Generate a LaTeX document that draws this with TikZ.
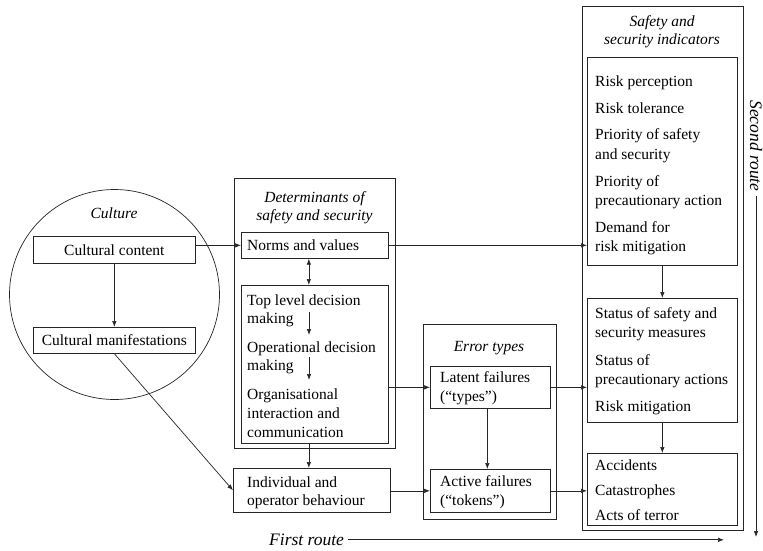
\documentclass[tikz,border=0pt]{standalone}
\usepackage{fontspec}
\setmainfont{Liberation Serif}
\usetikzlibrary{arrows.meta}
\begin{document}
\begin{tikzpicture}[x=1pt,y=-1pt,
  every node/.style={font=\fontsize{15.5}{19}\selectfont},
  bx/.style={draw=black!85, line width=0.7pt, rectangle, anchor=north west, inner sep=0pt},
  tl/.style={anchor=base west, inner sep=0pt},
  ital/.style={font=\fontsize{15.5}{19}\selectfont\itshape},
  route/.style={font=\fontsize{17.5}{21}\selectfont\itshape},
  tc/.style={ital, anchor=base, inner sep=0pt},
  conn/.style={draw=black!85, line width=0.7pt, -{Latex[length=6pt,width=4.5pt]}},
  dconn/.style={draw=black!85, line width=0.7pt, {Latex[length=6pt,width=4.5pt]}-{Latex[length=6pt,width=4.5pt]}}
]
\fill[white] (0,0) rectangle (763,550);
\useasboundingbox (0,0) rectangle (763,550);

% ---------- Culture circle ----------
\node[draw=black!85, line width=0.7pt, circle, minimum size=210pt, inner sep=0pt] (cir) at (114.5,294.5) {};
\node[tc] (cul) at (114,218) {Culture};
\node[bx, minimum width=162pt, minimum height=27pt] (cc) at (33,236) {};
\node[inner sep=0pt] (cct) at (cc.center) {Cultural content};
\node[bx, minimum width=162pt, minimum height=26pt] (cm) at (33,327) {};
\node[inner sep=0pt] (cmt) at (cm.center) {Cultural manifestations};

% ---------- Determinants ----------
\node[bx, minimum width=161pt, minimum height=270pt] (det) at (234,178) {};
\node[tc] (dt1) at (314.5,202) {Determinants of};
\node[tc] (dt2) at (314.5,220) {safety and security};
\node[bx, minimum width=147pt, minimum height=26pt] (nv) at (241,232) {};
\node[tl] (nvt) at (247,250) {Norms and values};
\node[bx, minimum width=147pt, minimum height=158pt] (dm) at (241,285) {};
\node[tl] (d1) at (247,305) {Top level decision};
\node[tl] (d2) at (247,323.5) {making};
\node[tl] (d3) at (247,352) {Operational decision};
\node[tl] (d4) at (247,370.5) {making};
\node[tl] (d5) at (247,399) {Organisational};
\node[tl] (d6) at (247,418) {interaction and};
\node[tl] (d7) at (247,437) {communication};
\coordinate (a1s) at (309,312); \coordinate (a1e) at (309,335);
\coordinate (a2s) at (309,357); \coordinate (a2e) at (309,380);

\node[bx, minimum width=157pt, minimum height=44pt] (indiv) at (233,468) {};
\node[tl] (i1) at (247,487) {Individual and};
\node[tl] (i2) at (247,505.5) {operator behaviour};

% ---------- Error types ----------
\node[bx, minimum width=133pt, minimum height=195pt] (err) at (423,324) {};
\node[tc] (et) at (489,351) {Error types};
\node[bx, minimum width=120pt, minimum height=42pt] (lat) at (430,366) {};
\node[tl] (l1) at (440,382) {Latent failures};
\node[tl] (l2) at (440,401) {(“types”)};
\node[bx, minimum width=120pt, minimum height=43pt] (act) at (430,469) {};
\node[tl] (ac1) at (440,486) {Active failures};
\node[tl] (ac2) at (440,505) {(“tokens”)};

% ---------- Indicators ----------
\node[bx, minimum width=161pt, minimum height=524pt] (ind) at (582,6) {};
\node[tc] (it1) at (662,26) {Safety and};
\node[tc] (it2) at (662,44) {security indicators};
\node[bx, minimum width=150pt, minimum height=208pt] (b1) at (587,57) {};
\node[tl] (r1) at (595,86) {Risk perception};
\node[tl] (r2) at (595,113) {Risk tolerance};
\node[tl] (r3) at (595,139.5) {Priority of safety};
\node[tl] (r4) at (595,159) {and security};
\node[tl] (r5) at (595,186) {Priority of};
\node[tl] (r6) at (595,205.5) {precautionary action};
\node[tl] (r7) at (595,232) {Demand for};
\node[tl] (r8) at (595,251.5) {risk mitigation};
\node[bx, minimum width=150pt, minimum height=124pt] (st) at (587,298) {};
\node[tl] (s1) at (595,318) {Status of safety and};
\node[tl] (s2) at (595,337.5) {security measures};
\node[tl] (s3) at (595,365) {Status of};
\node[tl] (s4) at (595,384.5) {precautionary actions};
\node[tl] (s5) at (595,411.5) {Risk mitigation};
\node[bx, minimum width=150pt, minimum height=72pt] (acc) at (587,453) {};
\node[tl] (x1) at (595,470) {Accidents};
\node[tl] (x2) at (595,495) {Catastrophes};
\node[tl] (x3) at (595,520) {Acts of terror};

% ---------- Routes ----------
\node[route, rotate=-90, inner sep=4pt] (sr) at (756,146) {Second route};
\coordinate (srend) at (756,537);
\node[route, anchor=base west, inner sep=0pt] (fr) at (269,545.5) {First route};
\coordinate (frend) at (720,540);

% ---------- Connectors ----------
\draw[conn] (cc) -- (cm);
\draw[conn] (cc.east |- nv.west) -- (nv.west);
\draw[conn] (cm.south) -- (indiv.west);
\draw[dconn] ([xshift=-6pt]nv.south) -- ([xshift=-6pt]dm.north);
\draw[conn] (a1s) -- (a1e);
\draw[conn] (a2s) -- (a2e);
\draw[conn] ([xshift=-6pt]dm.south) -- ([xshift=-6pt]dm.south |- indiv.north);
\draw[conn] (dm.east |- lat.west) -- (lat.west);
\draw[conn] ([xshift=-3pt]lat.south) -- ([xshift=-3pt]act.north);
\draw[conn] (indiv.east |- act.west) -- (act.west);
\draw[conn] (nv.east) -- (nv.east -| b1.west);
\draw[conn] (lat.east) -- (lat.east -| st.west);
\draw[conn] (act.east) -- (act.east -| acc.west);
\draw[conn] (b1) -- (st);
\draw[conn] (st) -- (acc);
\draw[conn] (sr.east) -- (sr.east |- srend);
\draw[conn] ([xshift=4pt]fr.east) -- ([xshift=4pt]fr.east -| frend);
\end{tikzpicture}
\end{document}
